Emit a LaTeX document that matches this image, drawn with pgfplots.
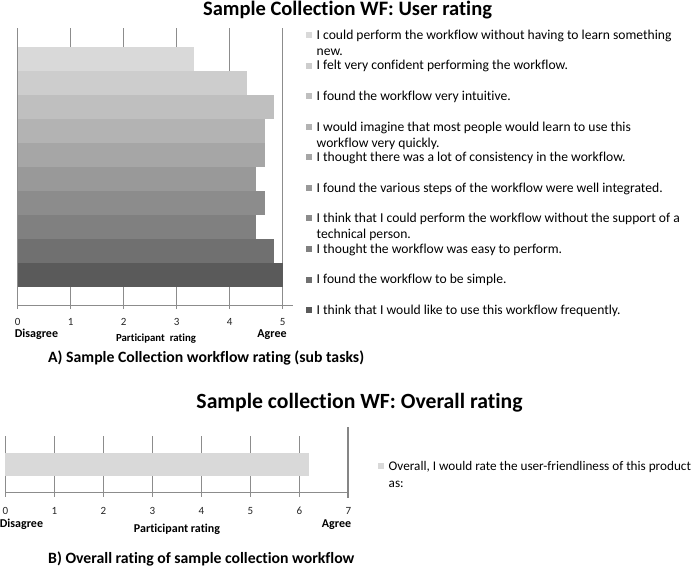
\documentclass[border=0pt]{standalone}
\usepackage{fontspec}
\setmainfont{Carlito}[Ligatures=NoCommon]
\usepackage{pgfplots}
\pgfplotsset{compat=1.18}

\definecolor{g1}{HTML}{D9D9D9}
\definecolor{g2}{HTML}{CDCDCD}
\definecolor{g3}{HTML}{BFBFBF}
\definecolor{g4}{HTML}{B3B3B3}
\definecolor{g5}{HTML}{A6A6A6}
\definecolor{g6}{HTML}{999999}
\definecolor{g7}{HTML}{8C8C8C}
\definecolor{g8}{HTML}{808080}
\definecolor{g9}{HTML}{707070}
\definecolor{g10}{HTML}{5A5A5A}
\definecolor{gridc}{HTML}{8C8C8C}

% one legend entry of the upper chart
\newcommand{\lentry}[1]{\parbox[t]{400pt}{\fontsize{13.6}{16}\selectfont\strut #1}}

\pgfplotsset{
  ratingaxis/.style={
    scale only axis,
    xbar, bar width=1, bar shift=0pt,
    axis x line=bottom, axis y line=none,
    x axis line style={-, draw=gridc, line width=0.8pt},
    xmajorgrids, grid style={gridc, line width=0.8pt},
    major tick length=4pt, xtick align=outside,
    tick style={gridc, line width=0.8pt},
    ytick=\empty,
    /pgf/number format/assume math mode=true,
    xticklabel style={font=\fontsize{11}{12}\selectfont, text=black!85, anchor=base},
    legend cell align=left,
    legend style={draw=none, fill=none, inner sep=0pt, outer sep=0pt,
      row sep=0pt, nodes={inner sep=0pt, anchor=base west}},
    legend image code/.code={\fill[##1] (0pt,1.3pt) rectangle (6pt,7.3pt); \path (10.7pt,0pt);},
  },
}

\begin{document}
\begin{tikzpicture}
\useasboundingbox (0pt,0pt) rectangle (700pt,-567pt);
\fill[white] (0pt,0pt) rectangle (700pt,-567pt);

% ---- A) sub tasks
\begin{axis}[ratingaxis,
  at={(17.7pt,-305pt)}, anchor=south west,
  width=275.6pt, height=276.5pt,
  xmin=0, xmax=5.2, ymin=-1.25, ymax=10.27,
  xtick={0,...,5},
  xticklabel style={yshift=-16pt},
  legend style={at={(1.046,1.0011)}, anchor=north west,
    nodes={text height=11.2pt, text depth=19.36pt}},
]
\addplot[fill=g1, draw=none] coordinates {(3.33,9)};
\addlegendentry{\lentry{I could perform the workflow without having to learn something\\new.}}
\addplot[fill=g2, draw=none] coordinates {(4.33,8)};
\addlegendentry{\lentry{I felt very confident performing the workflow.}}
\addplot[fill=g3, draw=none] coordinates {(4.83,7)};
\addlegendentry{\lentry{I found the workflow very intuitive.}}
\addplot[fill=g4, draw=none] coordinates {(4.67,6)};
\addlegendentry{\lentry{I would imagine that most people would learn to use this\\workflow very quickly.}}
\addplot[fill=g5, draw=none] coordinates {(4.67,5)};
\addlegendentry{\lentry{I thought there was a lot of consistency in the workflow.}}
\addplot[fill=g6, draw=none] coordinates {(4.5,4)};
\addlegendentry{\lentry{I found the various steps of the workflow were well integrated.}}
\addplot[fill=g7, draw=none] coordinates {(4.67,3)};
\addlegendentry{\lentry{I think that I could perform the workflow without the support of a\\technical person.}}
\addplot[fill=g8, draw=none] coordinates {(4.5,2)};
\addlegendentry{\lentry{I thought the workflow was easy to perform.}}
\addplot[fill=g9, draw=none] coordinates {(4.83,1)};
\addlegendentry{\lentry{I found the workflow to be simple.}}
\addplot[fill=g10, draw=none] coordinates {(5,0)};
\addlegendentry{\lentry{I think that I would like to use this workflow frequently.}}
\end{axis}

% ---- B) overall
\begin{axis}[ratingaxis,
  at={(5.3pt,-492.7pt)}, anchor=south west,
  width=343pt, height=56.7pt,
  xmin=0, xmax=7, ymin=-1.23, ymax=1.26,
  xtick={0,...,7}, clip=false,
  xticklabel style={yshift=-17.3pt},
  legend style={at={(1.0866,0.607)}, anchor=north west,
    nodes={text height=11.9pt, text depth=22pt}},
]
\addplot[fill=g1, draw=none] coordinates {(6.2,0)};
\addlegendentry{\parbox[t]{330pt}{\fontsize{13.2}{17}\selectfont\strut Overall, I would rate the user-friendliness of this product\\as:}}
\draw[color=gray!95, line width=2.3pt] (axis cs:7,-1.46) -- (axis cs:7,1.656);
\end{axis}

% ---- titles, captions, scale labels
\node[anchor=base, inner sep=0pt, font=\fontsize{20.5}{24}\selectfont\bfseries] at (347.5pt,-16pt) {Sample Collection WF: User rating};
\node[anchor=base, inner sep=0pt, font=\fontsize{21.7}{26}\selectfont\bfseries] at (359.5pt,-408.5pt) {Sample collection WF: Overall rating};
\node[anchor=base west, inner sep=0pt, font=\fontsize{15.75}{19}\selectfont\bfseries] at (48pt,-362.5pt) {A) Sample Collection workflow rating (sub tasks)};
\node[anchor=base west, inner sep=0pt, font=\fontsize{15.75}{19}\selectfont\bfseries] at (48pt,-563.5pt) {B) Overall rating of sample collection workflow};

\begin{scope}[every node/.style={anchor=base, inner sep=0pt, font=\fontsize{12}{14}\selectfont\bfseries}]
\node at (36.5pt,-337pt) {Disagree};
\node at (272pt,-337pt) {Agree};
\node[font=\fontsize{10.8}{12}\selectfont\bfseries] at (156pt,-341pt) {Participant\ \ rating};
\node at (21.5pt,-527pt) {Disagree};
\node at (336.5pt,-527pt) {Agree};
\node[font=\fontsize{12}{14}\selectfont\bfseries] at (177pt,-532.5pt) {Participant rating};
\end{scope}
\end{tikzpicture}
\end{document}
